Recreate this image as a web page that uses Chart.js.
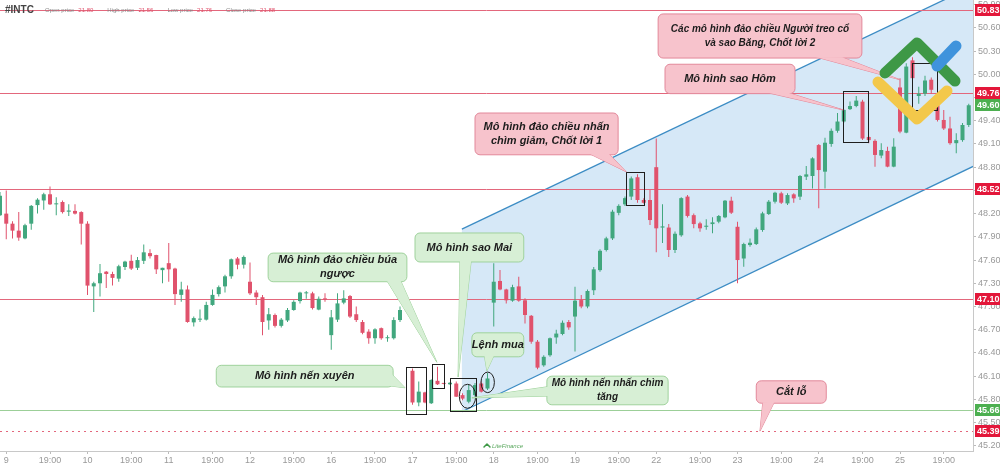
<!DOCTYPE html>
<html lang="vi">
<head>
  <meta charset="UTF-8">
  <title>#INTC</title>
  <script src="https://cdn.jsdelivr.net/npm/chart.js"></script>
  <style>
    body { margin: 0; background: #fff; }
    .container { width: 1000px; height: 467px; position: relative; }
  </style>
</head>
<body>
  <div class="container"><canvas id="candleChart"></canvas></div>
  <script>
    // nến 30 phút, chỉ số 0..155
    var opens = [48.18, 48.20, 48.07, 47.98, 47.88, 48.07, 48.31, 48.37, 48.45, 48.32, 48.35, 48.225, 48.235, 48.22, 48.07, 47.26, 47.30, 47.45, 47.42, 47.36,
      47.51, 47.59, 47.50, 47.59, 47.69, 47.665, 47.47, 47.56, 47.49, 47.15, 47.22, 46.795, 46.83, 46.83, 47.02, 47.16, 47.26, 47.39, 47.62, 47.54,
      47.32, 47.18, 47.12, 46.82, 46.89, 46.75, 46.82, 46.955, 47.07, 47.17, 47.17, 46.96, 47.105, 46.63, 46.83, 47.05, 47.135, 46.90, 46.80, 46.675,
      46.59, 46.72, 46.59, 46.59, 46.825, 46.955,
      46.17, 45.76, 45.89, 45.75, 46.04, 46.005, 45.995, 46.005, 45.855, 45.77, 45.855, 46.005, 45.94,
      47.05, 47.33, 47.22, 47.075, 47.26, 47.08, 46.88, 46.545, 46.24, 46.37, 46.60, 46.645, 46.80, 46.87, 47.083, 47.00, 47.21, 47.47, 47.73, 47.88,
      48.21, 48.32, 48.42, 48.67, 48.376, 48.376,
      48.80, 48.02, 48.02, 47.73, 47.92, 48.42, 48.18, 48.074, 48.03, 48.065, 48.096, 48.152, 48.367, 48.03, 47.62, 47.794, 47.807, 47.988, 48.195, 48.354,
      48.462, 48.332, 48.449, 48.419, 48.677, 48.686, 49.086, 48.742,
      49.10, 49.27, 49.39, 49.55, 49.59, 49.647, 49.19, 49.14, 48.95, 49.01, 48.807, 49.83, 49.246, 50.18, 49.72, 49.75, 49.93, 49.60, 49.41, 49.30,
      49.11, 49.15, 49.345];
    var highs = [48.48, 48.50, 48.10, 48.22, 48.07, 48.31, 48.40, 48.47, 48.55, 48.41, 48.37, 48.32, 48.32, 48.23, 48.10, 47.32, 47.55, 47.46, 47.45, 47.54,
      47.59, 47.67, 47.64, 47.80, 47.74, 47.67, 47.50, 47.82, 47.50, 47.32, 47.27, 46.87, 46.96, 47.06, 47.22, 47.27, 47.41, 47.62, 47.64, 47.66,
      47.57, 47.21, 47.15, 46.98, 46.91, 46.85, 46.98, 47.08, 47.19, 47.20, 47.19, 47.13, 47.17, 46.955, 47.17, 47.21, 47.15, 47.00, 46.825, 46.705,
      46.72, 46.73, 46.63, 46.86, 47.00, 47.12,
      46.20, 46.03, 45.90, 46.06, 46.22, 46.01, 46.02, 46.03, 45.88, 45.99, 46.01, 46.03, 46.14,
      47.56, 47.47, 47.23, 47.28, 47.385, 47.105, 46.89, 46.567, 46.37, 46.60, 46.70, 46.82, 46.825, 47.256, 47.15, 47.22, 47.51, 47.74, 47.90, 48.25,
      48.32, 48.42, 48.68, 48.71, 48.40, 48.505,
      49.17, 48.32, 48.065, 47.97, 48.41, 48.44, 48.20, 48.096, 48.126, 48.152, 48.182, 48.376, 48.419, 48.096, 47.824, 47.88, 48.022, 48.225, 48.376, 48.483,
      48.483, 48.462, 48.462, 48.698, 48.815, 48.927, 49.099, 49.18,
      49.30, 49.50, 49.55, 49.65, 49.72, 49.67, 49.20, 49.16, 49.108, 49.065, 49.173, 49.95, 50.142, 50.22, 49.84, 49.98, 49.96, 49.67, 49.54, 49.45,
      49.24, 49.37, 49.62];
    var lows = [48.17, 47.87, 47.88, 47.85, 47.87, 47.99, 48.20, 48.25, 48.31, 48.18, 48.20, 48.17, 48.19, 47.80, 47.15, 46.93, 47.13, 47.24, 47.27, 47.32,
      47.47, 47.47, 47.47, 47.55, 47.62, 47.42, 47.30, 47.32, 47.02, 47.06, 46.79, 46.74, 46.80, 46.82, 47.01, 47.13, 47.18, 47.36, 47.48, 47.49,
      47.15, 47.02, 46.63, 46.70, 46.73, 46.73, 46.80, 46.945, 47.04, 47.10, 46.96, 46.95, 47.06, 46.44, 46.80, 47.03, 46.85, 46.80, 46.64, 46.52,
      46.52, 46.57, 46.545, 46.575, 46.80, 46.945,
      45.73, 45.71, 45.75, 45.74, 45.985, 45.995, 45.99, 45.83, 45.79, 45.75, 45.835, 45.89, 45.92,
      46.74, 47.21, 47.04, 47.06, 47.06, 46.78, 46.52, 46.19, 46.22, 46.35, 46.52, 46.63, 46.70, 46.42, 46.976, 46.976, 47.15, 47.45, 47.71, 47.86,
      48.18, 48.30, 48.376, 48.34, 48.33, 48.053,
      47.70, 47.82, 47.64, 47.69, 47.90, 48.15, 48.01, 47.966, 47.99, 47.945, 48.074, 48.139, 48.195, 47.30, 47.514, 47.772, 47.794, 47.966, 48.182, 48.332,
      48.324, 48.311, 48.341, 48.376, 48.634, 48.526, 48.268, 48.526,
      49.065, 49.246, 49.375, 49.54, 49.573, 49.15, 49.108, 48.807, 48.914, 48.798, 48.798, 49.237, 49.237, 49.68, 49.62, 49.72, 49.75, 49.39, 49.28, 49.09,
      48.98, 49.13, 49.32];
    var closes = [48.43, 48.07, 47.98, 47.89, 48.05, 48.30, 48.38, 48.45, 48.32, 48.33, 48.22, 48.24, 48.20, 48.07, 47.27, 47.30, 47.43, 47.42, 47.37, 47.52,
      47.58, 47.49, 47.60, 47.70, 47.65, 47.48, 47.50, 47.48, 47.16, 47.22, 46.80, 46.85, 46.84, 47.02, 47.15, 47.25, 47.39, 47.61, 47.54, 47.64,
      47.17, 47.12, 46.80, 46.90, 46.75, 46.83, 46.955, 47.06, 47.18, 47.18, 46.98, 47.10, 47.09, 46.86, 47.04, 47.105, 46.87, 46.825, 46.66, 46.59,
      46.705, 46.59, 46.60, 46.825, 46.955, 47.085,
      45.76, 45.90, 45.76, 46.05, 45.995, 46.00, 46.015, 45.835, 45.81, 45.92, 45.985, 45.90, 46.07,
      47.32, 47.22, 47.08, 47.25, 47.075, 46.89, 46.545, 46.21, 46.35, 46.59, 46.65, 46.79, 46.73, 47.075, 47.00, 47.20, 47.48, 47.72, 47.88, 48.225,
      48.30, 48.40, 48.655, 48.376, 48.34, 48.117,
      48.01, 48.035, 47.73, 47.94, 48.40, 48.17, 48.065, 48.01, 48.044, 48.087, 48.169, 48.367, 48.212, 47.60, 47.807, 47.824, 47.997, 48.203, 48.354, 48.47,
      48.341, 48.44, 48.397, 48.686, 48.707, 48.914, 48.763, 49.116,
      49.27, 49.39, 49.54, 49.59, 49.66, 49.17, 49.15, 48.958, 49.022, 48.807, 49.065, 49.26, 50.10, 49.95, 49.75, 49.92, 49.80, 49.41, 49.30, 49.11,
      49.15, 49.345, 49.60];

    var xTickIdx = [1, 8, 14, 21, 27, 34, 40, 47, 53, 60, 66, 73, 79, 86, 92, 99, 105, 112, 118, 125, 131, 138, 144, 151];
    var xTickText = ['9', '19:00', '10', '19:00', '11', '19:00', '12', '19:00', '16', '19:00', '17', '19:00',
      '18', '19:00', '19', '19:00', '22', '19:00', '23', '19:00', '24', '19:00', '25', '19:00'];
    var yTicks = [45.20, 45.50, 45.80, 46.10, 46.40, 46.70, 47.00, 47.30, 47.60, 47.90, 48.20, 48.50, 48.80, 49.10, 49.40, 49.70, 50.00, 50.30, 50.60, 50.90];

    var resistLevels = [50.83, 49.76, 48.52, 47.10];
    var supportLevel = 45.66;
    var stopLevel = 45.39;
    var lastPrice = 49.60;

    // kênh giá: [đầu, cuối] theo chỉ số nến và giá
    var channelIdx = [73.9, 155.7];
    var channelTop = [48.00, 51.14];
    var channelBottom = [45.64, 48.81];

    var callouts = [
      { kind: 'pink', size: 10, lines: ['Các mô hình đảo chiều Người treo cổ', 'và sao Băng, Chốt lời 2'], x: [105.3, 137.9], y: [50.78, 50.21], base: [[131.0, 50.21], [135.2, 50.21]], tip: [144.0, 49.93] },
      { kind: 'pink', lines: ['Mô hình sao Hôm'], x: [106.4, 127.2], y: [50.13, 49.75], base: [[123.2, 49.75], [126.7, 49.75]], tip: [134.9, 49.54] },
      { kind: 'pink', lines: ['Mô hình đảo chiều nhấn', 'chìm giảm, Chốt lời 1'], x: [76.0, 98.9], y: [49.50, 48.96], base: [[94.7, 48.96], [97.9, 48.96]], tip: [100.2, 48.74] },
      { kind: 'green', lines: ['Mô hình đảo chiều búa', 'ngược'], x: [42.9, 65.1], y: [47.69, 47.32], base: [[62.4, 47.32], [64.6, 47.32]], tip: [69.9, 46.28] },
      { kind: 'green', lines: ['Mô hình sao Mai'], x: [66.4, 83.8], y: [47.95, 47.575], base: [[73.3, 47.575], [75.5, 47.575]], tip: [73.3, 46.09] },
      { kind: 'green', lines: ['Lệnh mua'], x: [75.5, 83.8], y: [46.66, 46.35], base: [[77.1, 46.35], [79.0, 46.35]], tip: [77.9, 46.17] },
      { kind: 'green', lines: ['Mô hình nến xuyên'], x: [34.6, 62.9], y: [46.24, 45.96], base: [[62.9, 46.15], [62.9, 45.97]], tip: [64.8, 45.95] },
      { kind: 'green', size: 10, lines: ['Mô hình nến nhấn chìm', 'tăng'], x: [87.5, 106.9], y: [46.10, 45.73], base: [[87.5, 45.97], [87.5, 45.84]], tip: [75.5, 45.82] },
      { kind: 'pink', lines: ['Cắt lỗ'], x: [121.0, 132.2], y: [46.04, 45.75], base: [[121.6, 45.75], [123.5, 45.75]], tip: [121.6, 45.39] }
    ];
    var frames = [
      { x: [64.96, 68.16], y: [46.22, 45.61] },
      { x: [69.12, 71.04], y: [46.26, 45.95] },
      { x: [72.0, 76.16], y: [46.08, 45.66] },
      { x: [100.16, 103.04], y: [48.74, 48.32] },
      { x: [134.88, 138.88], y: [49.78, 49.12] },
      { x: [145.92, 149.92], y: [50.15, 49.54] }
    ];
    var rings = [
      { x: 74.8, y: 45.84, rx: 1.31, ry: 0.155 },
      { x: 78.03, y: 46.02, rx: 1.07, ry: 0.133 }
    ];

    var upColor = '#41a77e', downColor = '#e0526c';
    var lineRed = '#e3677c', tagRed = '#e3173a', tagGreen = '#4caf50';
    var font = "'Liberation Sans', Arial, sans-serif";

    var styles = {
      green: { fill: '#d7efd5', stroke: '#9fd29c' },
      pink: { fill: '#f7c3cc', stroke: '#e2889a' }
    };

    function drawCallout(ctx, c, px, py) {
      var st = styles[c.kind];
      var x1 = px(c.x[0]), x2 = px(c.x[1]), y1 = py(c.y[0]), y2 = py(c.y[1]);
      var cx = (x1 + x2) / 2, cy = (y1 + y2) / 2;
      var tip = [px(c.tip[0]), py(c.tip[1])];
      var base = c.base.map(function(p) {
        var bx = px(p[0]), by = py(p[1]);
        var dx = cx - bx, dy = cy - by, d = Math.hypot(dx, dy) || 1;
        return [bx + dx / d * 3, by + dy / d * 3];
      });
      function tri() {
        ctx.beginPath();
        ctx.moveTo(base[0][0], base[0][1]);
        ctx.lineTo(tip[0], tip[1]);
        ctx.lineTo(base[1][0], base[1][1]);
        ctx.closePath();
      }
      ctx.lineWidth = 1;
      ctx.fillStyle = st.fill;
      ctx.strokeStyle = st.stroke;
      tri(); ctx.fill(); ctx.stroke();
      ctx.beginPath();
      ctx.roundRect(x1, y1, x2 - x1, y2 - y1, 5);
      ctx.fill(); ctx.stroke();
      tri(); ctx.fill();

      ctx.fillStyle = '#1c1c1c';
      ctx.font = 'italic bold ' + (c.size || 11) + 'px ' + font;
      ctx.textAlign = 'center';
      ctx.textBaseline = 'middle';
      var lh = 14;
      c.lines.forEach(function(t, k) {
        ctx.fillText(t, cx, cy + (k - (c.lines.length - 1) / 2) * lh);
      });
    }

    function strokePoly(ctx, pts, color) {
      ctx.strokeStyle = color;
      ctx.beginPath();
      pts.forEach(function(p, k) { k ? ctx.lineTo(p[0], p[1]) : ctx.moveTo(p[0], p[1]); });
      ctx.stroke();
    }

    var overlayPlugin = {
      id: 'overlay',
      beforeDraw: function(chart) {
        var ctx = chart.ctx;
        ctx.save();
        ctx.fillStyle = '#fff';
        ctx.fillRect(0, 0, chart.width, chart.height);
        ctx.restore();
      },
      beforeDatasetsDraw: function(chart) {
        var ctx = chart.ctx, a = chart.chartArea, xs = chart.scales.x, ys = chart.scales.y;
        var px = function(v) { return xs.getPixelForValue(v); };
        var py = function(v) { return ys.getPixelForValue(v); };
        ctx.save();
        ctx.beginPath();
        ctx.rect(a.left, a.top, a.right - a.left, a.bottom - a.top);
        ctx.clip();

        // kênh xu hướng tăng
        ctx.beginPath();
        ctx.moveTo(px(channelIdx[0]), py(channelTop[0]));
        ctx.lineTo(px(channelIdx[1]), py(channelTop[1]));
        ctx.lineTo(px(channelIdx[1]), py(channelBottom[1]));
        ctx.lineTo(px(channelIdx[0]), py(channelBottom[0]));
        ctx.closePath();
        ctx.fillStyle = '#d6e8f7';
        ctx.fill();
        ctx.lineWidth = 1.3;
        strokePoly(ctx, [[px(channelIdx[0]), py(channelTop[0])], [px(channelIdx[1]), py(channelTop[1])]], '#3c8cc4');
        strokePoly(ctx, [[px(channelIdx[0]), py(channelBottom[0])], [px(channelIdx[1]), py(channelBottom[1])]], '#3c8cc4');

        // các mức ngang
        ctx.lineWidth = 1;
        resistLevels.forEach(function(v) {
          var y = Math.round(py(v)) + 0.5;
          strokePoly(ctx, [[a.left, y], [a.right, y]], lineRed);
        });
        var ys1 = Math.round(py(supportLevel)) + 0.5;
        strokePoly(ctx, [[a.left, ys1], [a.right, ys1]], '#9ccf98');
        ctx.setLineDash([2, 4]);
        var ys2 = Math.round(py(stopLevel)) + 0.5;
        strokePoly(ctx, [[a.left, ys2], [a.right, ys2]], lineRed);
        ctx.setLineDash([]);
        ctx.restore();
      },
      afterDatasetsDraw: function(chart) {
        var ctx = chart.ctx, a = chart.chartArea, xs = chart.scales.x, ys = chart.scales.y;
        var px = function(v) { return xs.getPixelForValue(v); };
        var py = function(v) { return ys.getPixelForValue(v); };
        ctx.save();
        ctx.beginPath();
        ctx.rect(a.left, a.top, a.right - a.left, a.bottom - a.top);
        ctx.clip();

        // khung đánh dấu mô hình
        ctx.lineWidth = 1;
        ctx.strokeStyle = '#1e1e1e';
        frames.forEach(function(f) {
          ctx.strokeRect(Math.round(px(f.x[0])) + 0.5, Math.round(py(f.y[0])) + 0.5,
            Math.round(px(f.x[1]) - px(f.x[0])), Math.round(py(f.y[1]) - py(f.y[0])));
        });
        rings.forEach(function(r) {
          ctx.beginPath();
          ctx.ellipse(px(r.x), py(r.y), px(r.x + r.rx) - px(r.x), py(r.y - r.ry) - py(r.y), 0, 0, Math.PI * 2);
          ctx.stroke();
        });

        callouts.forEach(function(c) { drawCallout(ctx, c, px, py); });

        // logo
        var R = a.right, T = a.top;
        ctx.lineCap = 'round';
        ctx.lineJoin = 'round';
        ctx.lineWidth = 11;
        strokePoly(ctx, [[R - 95, T + 82], [R - 56, T + 119], [R - 26, T + 91]], '#f3c84a');
        strokePoly(ctx, [[R - 88, T + 73], [R - 56, T + 43], [R - 18, T + 81]], '#3e9846');
        strokePoly(ctx, [[R - 36, T + 66], [R - 17, T + 46]], '#3f93dc');

        // logo nhỏ phía dưới
        ctx.lineWidth = 1.5;
        strokePoly(ctx, [[a.left + 484, a.bottom - 4], [a.left + 487, a.bottom - 7], [a.left + 490, a.bottom - 4]], '#3e9846');
        ctx.font = 'italic 6px ' + font;
        ctx.fillStyle = '#5aa85e';
        ctx.textAlign = 'left';
        ctx.textBaseline = 'middle';
        ctx.fillText('LiteFinance', a.left + 492, a.bottom - 5);
        ctx.restore();
      },
      afterDraw: function(chart) {
        var ctx = chart.ctx, a = chart.chartArea, ys = chart.scales.y;
        ctx.save();
        // nhãn giá trên trục
        var tags = resistLevels.map(function(v) { return [v, tagRed]; })
          .concat([[lastPrice, tagGreen], [supportLevel, tagGreen], [stopLevel, tagRed]]);
        ctx.font = 'bold 9px ' + font;
        ctx.textAlign = 'left';
        ctx.textBaseline = 'middle';
        tags.forEach(function(t) {
          var y = Math.round(ys.getPixelForValue(t[0]));
          ctx.fillStyle = t[1];
          ctx.fillRect(a.right + 2, y - 6, chart.width - a.right - 2, 12);
          ctx.fillStyle = '#fff';
          ctx.fillText(t[0].toFixed(2), a.right + 4, y + 0.5);
        });

        // tiêu đề
        ctx.textBaseline = 'middle';
        ctx.font = 'bold 10px ' + font;
        ctx.fillStyle = '#444';
        ctx.fillText('#INTC', a.left + 5, a.top + 10);
        var x = a.left + 45;
        ctx.font = '6px ' + font;
        [['Open price', '21.80'], ['High price', '21.56'], ['Low price', '21.76'], ['Close price', '21.88']].forEach(function(p) {
          ctx.fillStyle = '#888';
          ctx.fillText(p[0], x, a.top + 10);
          x += ctx.measureText(p[0]).width + 4;
          ctx.fillStyle = '#e0526c';
          ctx.fillText(p[1], x, a.top + 10);
          x += ctx.measureText(p[1]).width + 14;
        });
        ctx.restore();
      }
    };

    document.addEventListener("DOMContentLoaded", function() {
      var ctx = document.getElementById('candleChart').getContext('2d');
      var colors = closes.map(function(c, i) { return c >= opens[i] ? upColor : downColor; });

      new Chart(ctx, {
        type: 'bar',
        data: {
          datasets: [{
            label: 'Thân nến',
            data: opens.map(function(o, i) { return { x: i, y: [o, closes[i]] }; }),
            backgroundColor: colors,
            grouped: false,
            barPercentage: 0.7,
            categoryPercentage: 1,
            maxBarThickness: 4,
            minBarLength: 1,
            order: 0
          }, {
            label: 'Bóng nến',
            data: lows.map(function(l, i) { return { x: i, y: [l, highs[i]] }; }),
            backgroundColor: colors,
            grouped: false,
            barPercentage: 0.2,
            categoryPercentage: 1,
            maxBarThickness: 1,
            order: 1
          }]
        },
        options: {
          responsive: true,
          maintainAspectRatio: false,
          animation: false,
          events: [],
          layout: { padding: 0 },
          plugins: { legend: { display: false }, tooltip: { enabled: false } },
          scales: {
            x: {
              type: 'linear',
              min: 0,
              max: 155.68,
              offset: false,
              afterBuildTicks: function(s) { s.ticks = xTickIdx.map(function(v) { return { value: v }; }); },
              afterFit: function(s) { s.height = 16; s.paddingLeft = 0; s.paddingRight = 0; },
              grid: { drawOnChartArea: false, tickLength: 3, color: '#bbb', offset: false },
              border: { color: '#c8c8c8' },
              ticks: {
                autoSkip: false, maxRotation: 0, padding: 1, color: '#999',
                font: { size: 9, family: font },
                callback: function(v, i) { return xTickText[i]; }
              }
            },
            y: {
              position: 'right',
              min: 45.133,
              max: 50.96,
              afterBuildTicks: function(s) { s.ticks = yTicks.map(function(v) { return { value: v }; }); },
              afterFit: function(s) { s.width = 27; s.paddingTop = 0; s.paddingBottom = 0; },
              grid: { drawOnChartArea: false, tickLength: 3, color: '#bbb' },
              border: { color: '#c8c8c8' },
              ticks: {
                autoSkip: false, padding: 2, color: '#999',
                font: { size: 9, family: font },
                callback: function(v) { return v.toFixed(2); }
              }
            }
          }
        },
        plugins: [overlayPlugin]
      });
    });
  </script>
</body>
</html>
